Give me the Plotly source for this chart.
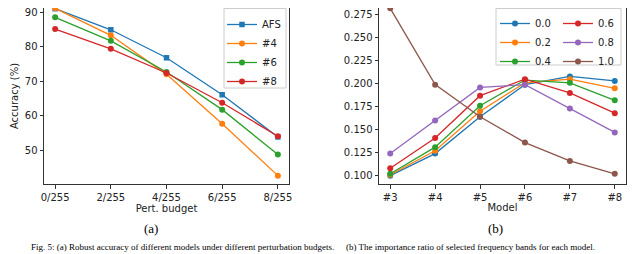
import plotly.graph_objects as go

# ---------------- data ----------------
budgets = ["0/255", "2/255", "4/255", "6/255", "8/255"]
acc_afs = [91.0, 84.9, 76.8, 66.1, 53.9]
acc_m4 = [91.1, 83.3, 72.0, 57.7, 42.7]
acc_m6 = [88.5, 81.7, 72.7, 61.8, 48.8]
acc_m8 = [85.1, 79.4, 72.4, 63.8, 54.1]
left_names = ["AFS", "#4", "#6", "#8"]

models = ["#3", "#4", "#5", "#6", "#7", "#8"]
r00 = [0.100, 0.124, 0.164, 0.199, 0.208, 0.203]
r02 = [0.101, 0.127, 0.170, 0.201, 0.205, 0.195]
r04 = [0.102, 0.131, 0.176, 0.204, 0.201, 0.182]
r06 = [0.108, 0.141, 0.187, 0.205, 0.190, 0.168]
r08 = [0.124, 0.160, 0.196, 0.199, 0.173, 0.147]
r10 = [0.282, 0.199, 0.164, 0.136, 0.116, 0.102]
right_names = ["0.0", "0.2", "0.4", "0.6", "0.8", "1.0"]

y_ticks_left = [50, 60, 70, 80, 90]
y_ticks_right = [0.100, 0.125, 0.150, 0.175, 0.200, 0.225, 0.250, 0.275]

# ---------------- style ----------------
# The page body has an 8px default margin, so the figure is drawn 8px in
# from the window edge; build the figure in window coordinates minus that.
WIN_W, WIN_H = 640, 254
OFF = 8
W, H = WIN_W - OFF, WIN_H - OFF
colors = ["#1f77b4", "#ff7f0e", "#2ca02c", "#d62728", "#9467bd", "#8c564b"]
FONT = "DejaVu Sans"
AX = "#333333"
TXT = "#222222"


def px(x):
    """window x pixel -> paper fraction"""
    return (x - OFF) / W


def py(y):
    """window y pixel -> paper fraction"""
    return (H - (y - OFF)) / H


def padded(vals, frac=0.05):
    lo, hi = min(vals), max(vals)
    d = (hi - lo) * frac
    return [lo - d, hi + d]


def visible_range(rng, top_px, bottom_px, vis_top_px):
    """axis spans window pixels top_px..bottom_px; only show from vis_top_px"""
    lo, hi = rng
    frac = (vis_top_px - top_px) / (bottom_px - top_px)
    return [lo, hi - frac * (hi - lo)]


PLOT_TOP, PLOT_BOTTOM = 0, 184

fig = go.Figure()

left_series = [acc_afs, acc_m4, acc_m6, acc_m8]
for i, (name, vals) in enumerate(zip(left_names, left_series)):
    fig.add_trace(go.Scatter(
        x=budgets, y=vals, name=name, mode="lines+markers",
        line=dict(color=colors[i], width=1.3),
        marker=dict(color=colors[i], size=5.5 if i == 0 else 6,
                    symbol="square" if i == 0 else "circle"),
        cliponaxis=False,
        xaxis="x", yaxis="y", legend="legend",
    ))

right_series = [r00, r02, r04, r06, r08, r10]
for i, (name, vals) in enumerate(zip(right_names, right_series)):
    fig.add_trace(go.Scatter(
        x=models, y=vals, name=name, mode="lines+markers",
        line=dict(color=colors[i], width=1.3),
        marker=dict(color=colors[i], size=6),
        cliponaxis=False,
        xaxis="x2", yaxis="y2",
        legend="legend2" if i < 3 else "legend3",
    ))

all_left = acc_afs + acc_m4 + acc_m6 + acc_m8
all_right = r00 + r02 + r04 + r06 + r08 + r10

axis_common = dict(
    showline=True, linecolor=AX, linewidth=1,
    ticks="outside", ticklen=3.5, tickwidth=1, tickcolor=AX,
    showgrid=False, zeroline=False, automargin=False,
    ticklabeloverflow="allow",
    tickfont=dict(family=FONT, size=10, color=TXT),
    title_font=dict(family=FONT, size=10, color=TXT),
)

fig.update_layout(
    width=W, height=H,
    margin=dict(l=0, r=0, t=0, b=0, pad=0, autoexpand=False),
    paper_bgcolor="white", plot_bgcolor="white",
    font=dict(family=FONT, size=10, color=TXT),
    xaxis=dict(domain=[px(44), px(289)], anchor="y", type="category",
               range=[-0.2, len(budgets) - 0.8], mirror=False,
               title=dict(text="Pert. budget", standoff=2), **axis_common),
    yaxis=dict(domain=[py(PLOT_BOTTOM), 1.0], anchor="x", mirror=True,
               range=visible_range(padded(all_left), PLOT_TOP, PLOT_BOTTOM, OFF),
               tickvals=y_ticks_left,
               title=dict(text="Accuracy (%)", standoff=4), **axis_common),
    xaxis2=dict(domain=[px(379), px(626)], anchor="y2", type="category",
                range=[-0.25, len(models) - 0.75], mirror=False,
                title=dict(text="Model", standoff=2), **axis_common),
    yaxis2=dict(domain=[py(PLOT_BOTTOM), 1.0], anchor="x2", mirror=True,
                range=visible_range(padded(all_right), PLOT_TOP, PLOT_BOTTOM, OFF),
                tickvals=y_ticks_right, tickformat=".3f", **axis_common),
    legend=dict(x=px(222), y=py(10), xanchor="left", yanchor="top",
                bgcolor="rgba(0,0,0,0)", borderwidth=0,
                font=dict(family=FONT, size=10, color=TXT),
                tracegroupgap=0),
    legend2=dict(x=px(495), y=py(9), xanchor="left", yanchor="top",
                 bgcolor="rgba(0,0,0,0)", borderwidth=0,
                 font=dict(family=FONT, size=10, color=TXT)),
    legend3=dict(x=px(558), y=py(9), xanchor="left", yanchor="top",
                 bgcolor="rgba(0,0,0,0)", borderwidth=0,
                 font=dict(family=FONT, size=10, color=TXT)),
    showlegend=True,
)

# legend frames
fig.add_shape(type="rect", xref="paper", yref="paper",
              x0=px(224), x1=px(286), y0=py(88), y1=py(8.5),
              line=dict(color="#cccccc", width=1),
              fillcolor="rgba(255,255,255,0.85)", layer="above")
fig.add_shape(type="rect", xref="paper", yref="paper",
              x0=px(496), x1=px(621), y0=py(65), y1=py(8.5),
              line=dict(color="#cccccc", width=1),
              fillcolor="rgba(255,255,255,0.85)", layer="above")

# sub-captions
cap_font = dict(family="Liberation Serif", size=13, color="black")
fig.add_annotation(text="(a)", xref="paper", yref="paper", x=px(151), y=py(228),
                   xanchor="center", yanchor="middle", showarrow=False, font=cap_font)
fig.add_annotation(text="(b)", xref="paper", yref="paper", x=px(495), y=py(228),
                   xanchor="center", yanchor="middle", showarrow=False, font=cap_font)

# figure caption line at the bottom edge
small_cap = dict(family="Liberation Serif", size=9, color="black")
fig.add_annotation(text="Fig. 5: (a) Robust accuracy of different models under different perturbation budgets.",
                   xref="paper", yref="paper", x=px(336), y=py(254),
                   xanchor="right", yanchor="bottom", showarrow=False, font=small_cap)
fig.add_annotation(text="(b) The importance ratio of selected frequency bands for each model.",
                   xref="paper", yref="paper", x=px(344), y=py(254),
                   xanchor="left", yanchor="bottom", showarrow=False, font=small_cap)

fig.write_html("out.html")
